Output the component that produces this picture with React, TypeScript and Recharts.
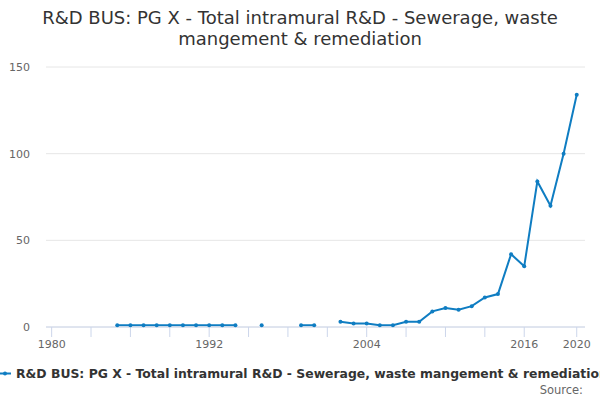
import { LineChart, Line, XAxis, YAxis, CartesianGrid } from 'recharts'

const years = [
  1985, 1986, 1987, 1988, 1989, 1990, 1991, 1992, 1993, 1994, 1995, 1996, 1997, 1998, 1999, 2000,
  2001, 2002, 2003, 2004, 2005, 2006, 2007, 2008, 2009, 2010, 2011, 2012, 2013, 2014, 2015, 2016,
  2017, 2018, 2019, 2020,
]
const values: (number | null)[] = [
  1, 1, 1, 1, 1, 1, 1, 1, 1, 1, null, 1, null, null, 1, 1,
  null, 3, 2, 2, 1, 1, 3, 3, 9, 11, 10, 12, 17, 19, 42, 35,
  84, 70, 100, 134,
]
const xTicks = [1980, 1983, 1986, 1989, 1992, 1995, 1998, 2001, 2004, 2007, 2010, 2013, 2016, 2020]
const xLabels = [1980, 1992, 2004, 2016, 2020]
const yTicks = [0, 50, 100, 150]

const title = ['R&D BUS: PG X - Total intramural R&D - Sewerage, waste', 'mangement & remediation']
const seriesName = 'R&D BUS: PG X - Total intramural R&D - Sewerage, waste mangement & remediation'

const LINE = '#0f7dc2'
const font = '"DejaVu Sans", sans-serif'

export default function App() {
  const data = years.map((year, i) => ({ year, value: values[i] }))

  return (
    <div style={{ position: 'absolute', left: 0, top: 0, width: 600, height: 400, background: '#fff', overflow: 'hidden' }}>
      <LineChart
        width={600}
        height={400}
        data={data}
        margin={{ top: 67, right: 15, bottom: 0, left: 0 }}
        style={{ fontFamily: font }}
      >
        <CartesianGrid vertical={false} stroke="#e6e6e6" />
        <XAxis
          dataKey="year"
          type="number"
          domain={[1979.57, 2020.63]}
          ticks={xTicks}
          interval={0}
          height={73}
          stroke="#ccd6eb"
          tickSize={10}
          tickMargin={3}
          tick={{ fill: '#666', fontSize: 11 }}
          tickFormatter={(v: number) => (xLabels.includes(v) ? String(v) : '')}
        />
        <YAxis
          domain={[0, 150]}
          ticks={yTicks}
          width={46}
          axisLine={false}
          tickLine={false}
          tickSize={0}
          tickMargin={16}
          tick={{ fill: '#666', fontSize: 11 }}
        />
        <Line
          dataKey="value"
          stroke={LINE}
          strokeWidth={2}
          dot={{ r: 2, fill: LINE, stroke: LINE, strokeWidth: 0 }}
          connectNulls={false}
          isAnimationActive={false}
        />
        {title.map((t, i) => (
          <text
            key={t}
            x={300}
            y={24 + i * 21}
            textAnchor="middle"
            style={{ fontSize: 18, fill: '#333', fontFamily: font }}
          >
            {t}
          </text>
        ))}
        <line x1={0} y1={373.5} x2={11} y2={373.5} stroke={LINE} strokeWidth={2} />
        <circle cx={5} cy={373.5} r={2} fill={LINE} />
        <text x={16} y={378} style={{ fontSize: 12.4, fontWeight: 700, fill: '#333', fontFamily: font }}>
          {seriesName}
        </text>
        <text x={583} y={394} textAnchor="end" style={{ fontSize: 11.5, fill: '#666', fontFamily: font }}>
          Source:
        </text>
      </LineChart>
    </div>
  )
}
